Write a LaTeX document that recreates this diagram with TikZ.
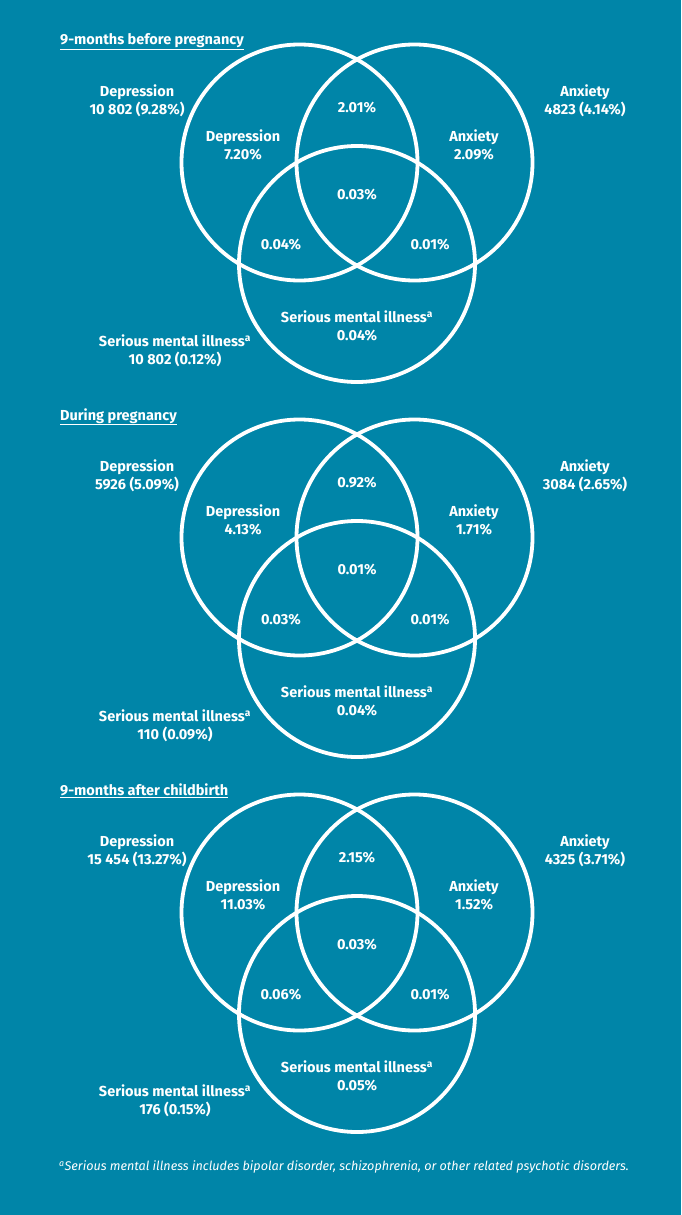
\documentclass[tikz,border=0pt]{standalone}
\usepackage{fontspec}
\setmainfont{Fira Sans}
\usetikzlibrary{positioning}
\definecolor{sea}{HTML}{0085A8}

\begin{document}
\begin{tikzpicture}[x=1pt, y=1pt, font=\fontsize{14.5}{18}\selectfont\bfseries,
  ring/.style={draw=white, line width=3.8pt},
  lab/.style={align=center, inner sep=0pt, text=white},
  head/.style={anchor=base west, inner sep=0pt, text=white}]
  \fill[sea] (0,0) rectangle (681,-1215);
  \useasboundingbox (0,0) rectangle (681,-1215);
  % --- three panels, one per period ---
  \foreach \i/\yo/\ttl/\dt/\at/\st/\d/\da/\a/\c/\ds/\as/\s in {
    1/0/9-months before pregnancy/10 802 (9.28\%)/4823 (4.14\%)/10 802 (0.12\%)/7.20\%/2.01\%/2.09\%/0.03\%/0.04\%/0.01\%/0.04\%,
    2/375/During pregnancy/5926 (5.09\%)/3084 (2.65\%)/110 (0.09\%)/4.13\%/0.92\%/1.71\%/0.01\%/0.03\%/0.01\%/0.04\%,
    3/750/9-months after childbirth/15 454 (13.27\%)/4325 (3.71\%)/176 (0.15\%)/11.03\%/2.15\%/1.52\%/0.03\%/0.06\%/0.01\%/0.05\%}{
    \begin{scope}[shift={(0,-\yo)}]
      \node[head] (title\i) at (60,-45) {\underline{\ttl}};
      % circles
      \coordinate (cdep\i) at (299.5,-162.5);
      \coordinate (canx\i) at (414.5,-162.5);
      \coordinate (csmi\i) at (357,-264);
      \draw[ring] (cdep\i) circle (118);
      \draw[ring] (canx\i) circle (118);
      \draw[ring] (csmi\i) circle (118);
      % totals outside
      \node[lab] (dtot\i) at (137,-101) {Depression\\\dt};
      \node[lab] (atot\i) at (585,-101) {Anxiety\\\at};
      \node[lab] (stot\i) at (175,-351) {Serious mental illness\textsuperscript{a}\\\st};
      % regions
      \node[lab] (dep\i) at (243,-145) {Depression\\\d};
      \node[lab] (da\i) at (357,-108) {\da};
      \node[lab] (anx\i) at (474,-145) {Anxiety\\\a};
      \node[lab] (all\i) at (357,-195) {\c};
      \node[lab] (ds\i) at (281,-245) {\ds};
      \node[lab] (as\i) at (430,-245) {\as};
      \node[lab] (smi\i) at (357,-326) {Serious mental illness\textsuperscript{a}\\\s};
    \end{scope}
  }
  % --- footnote ---
  \node[lab, font=\fontsize{12.6}{14}\selectfont\mdseries\itshape] (note) at (344,-1167)
    {\textsuperscript{a}Serious mental illness includes bipolar disorder, schizophrenia, or other related psychotic disorders.};
\end{tikzpicture}
\end{document}
